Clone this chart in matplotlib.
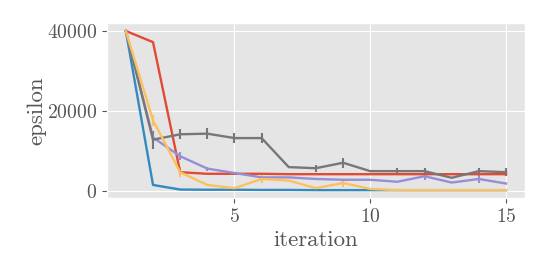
import matplotlib
matplotlib.use("Agg")
import matplotlib.pyplot as plt
import numpy as np

plt.style.use("ggplot")
plt.rcParams["font.family"] = "serif"
plt.rcParams["font.serif"] = ["cmr10", "DejaVu Serif"]
plt.rcParams["mathtext.fontset"] = "cm"
plt.rcParams["axes.formatter.use_mathtext"] = True
plt.rcParams["axes.unicode_minus"] = False

iteration = list(range(1, 16))

red = [40000, 37200, 4600, 4200, 4200, 4200, 4100, 4100, 4100, 4100, 4100, 4100, 4100, 4100, 4100]
red_err = [0] * 15

blue = [40000, 1400, 250, 200, 200, 150, 150, 100, 100, 100, 100, 100, 100, 100, 100]
blue_err = [0] * 15

purple = [40000, 13300, 8600, 5500, 4400, 3300, 3300, 2900, 2700, 2700, 2200, 3600, 2000, 2900, 1760]
purple_err = [0, 1500, 1000, 500, 0, 0, 0, 0, 0, 0, 0, 900, 0, 900, 0]

gray = [40000, 12750, 14100, 14260, 13150, 13150, 5870, 5600, 6970, 4860, 4860, 4860, 3200, 4860, 4600]
gray_err = [0, 2300, 1300, 1300, 1300, 1300, 0, 900, 1300, 0, 900, 900, 0, 900, 1000]

yellow = [40000, 17600, 4600, 1400, 600, 2900, 2500, 600, 1900, 400, 100, 100, 100, 100, 100]
yellow_err = [0, 1300, 1300, 0, 0, 1000, 0, 0, 1000, 0, 0, 0, 0, 0, 0]

series = [
    (red, red_err, "#E24A33"),
    (blue, blue_err, "#348ABD"),
    (purple, purple_err, "#988ED5"),
    (gray, gray_err, "#777777"),
    (yellow, yellow_err, "#FBC15E"),
]

fig = plt.figure(figsize=(5.48, 2.74), dpi=100)
ax = fig.add_axes([0.195, 0.277, 0.763, 0.639])
for vals, err, col in series:
    ax.errorbar(iteration, vals, yerr=err, color=col, lw=1.7, elinewidth=1.5, capsize=0)

ax.set_xticks([5, 10, 15])
ax.set_yticks([0, 20000, 40000])
ax.tick_params(labelsize=14.2, colors="#555555")
ax.set_xlabel("iteration", fontsize=16.5, color="#555555", labelpad=3)
ax.set_ylabel("epsilon", fontsize=16.5, color="#555555", labelpad=0)
fig.savefig("out.png", dpi=100)
